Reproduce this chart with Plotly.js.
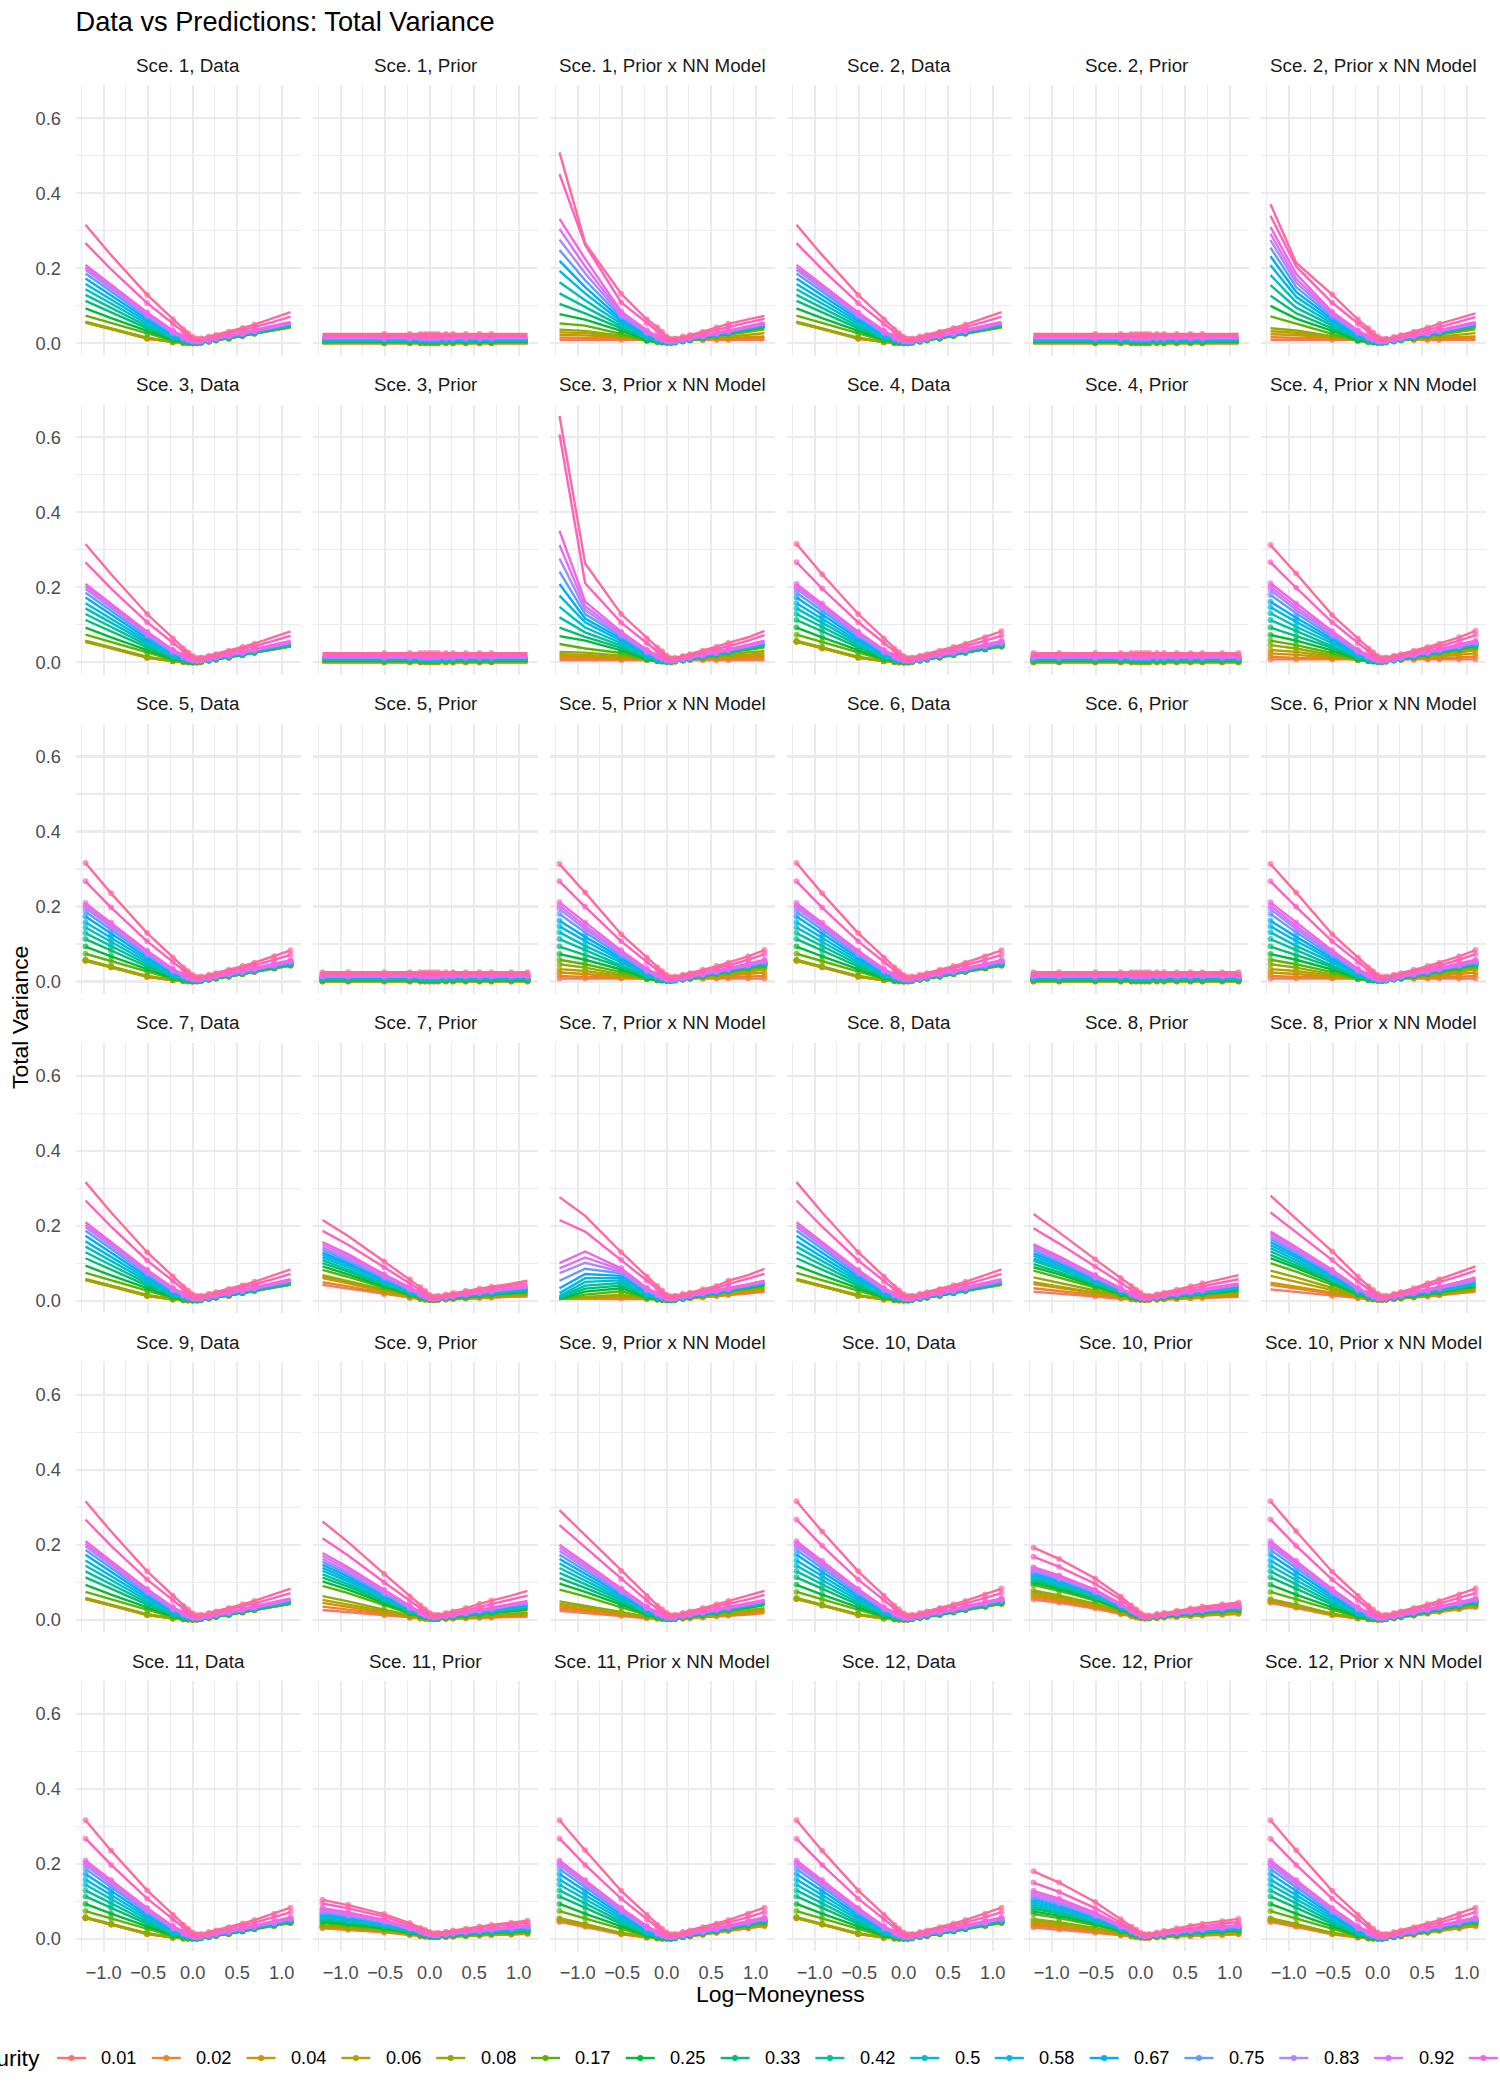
<!DOCTYPE html>
<html>
<head>
<meta charset="utf-8">
<script src="https://cdn.plot.ly/plotly-3.0.1.min.js"></script>
<style>
  html, body { margin: 0; padding: 0; background: #ffffff; }
  #chart { width: 1500px; height: 2100px; }
</style>
</head>
<body>
<div id="chart"></div>
<script>
// ---------- data ----------
const maturities = ['0.01','0.02','0.04','0.06','0.08','0.17','0.25','0.33','0.42','0.5','0.58','0.67','0.75','0.83','0.92','1','1.25','1.5'];
const logMoneyness = [-1.204,-0.916,-0.511,-0.223,-0.105,-0.051,0,0.049,0.095,0.182,0.262,0.405,0.560,0.693,0.916,1.099];
const scenarioIds = [1,2,3,4,5,6,7,8,9,10,11,12];
const panelKinds = ['Data','Prior','Prior x NN Model'];
// scenarios whose observed points include the far wings
const wingScenarios = [4,5,6,10,11,12];

// observed total variance (same surface in every scenario)
const dataTotalVar = [
  [.055,.038,.012,.003,.001,0,0,0,.002,.005,.008,.013,.020,.026,.035,.042],
  [.055,.038,.013,.003,.001,0,0,0,.002,.005,.008,.013,.020,.026,.035,.043],
  [.056,.039,.013,.003,.001,.001,0,0,.002,.005,.008,.013,.020,.026,.035,.043],
  [.056,.039,.014,.004,.001,.001,0,.001,.002,.005,.008,.013,.020,.026,.035,.043],
  [.058,.040,.015,.004,.002,.001,0,.001,.002,.005,.008,.013,.020,.027,.035,.043],
  [.074,.054,.025,.007,.003,.002,.001,.001,.002,.005,.008,.014,.020,.027,.036,.044],
  [.093,.067,.033,.009,.004,.003,.002,.001,.003,.006,.009,.014,.021,.027,.036,.045],
  [.113,.082,.040,.012,.006,.004,.002,.002,.003,.006,.009,.015,.021,.028,.037,.046],
  [.129,.094,.046,.014,.007,.005,.003,.002,.003,.006,.010,.015,.022,.028,.038,.047],
  [.144,.106,.052,.017,.008,.006,.003,.003,.004,.007,.010,.016,.023,.029,.039,.048],
  [.158,.117,.058,.020,.010,.007,.004,.003,.004,.007,.011,.016,.023,.030,.040,.049],
  [.173,.127,.064,.023,.011,.008,.004,.003,.005,.008,.011,.017,.024,.031,.041,.050],
  [.186,.138,.070,.026,.013,.009,.005,.004,.005,.008,.012,.018,.025,.032,.042,.052],
  [.196,.146,.075,.029,.015,.010,.006,.005,.006,.009,.013,.019,.026,.033,.043,.053],
  [.202,.152,.079,.032,.017,.011,.007,.006,.007,.010,.014,.020,.027,.034,.045,.055],
  [.209,.157,.082,.034,.018,.012,.008,.006,.008,.011,.015,.021,.029,.035,.047,.057],
  [.267,.197,.107,.051,.028,.020,.013,.010,.011,.015,.019,.027,.036,.043,.058,.071],
  [.316,.235,.129,.064,.037,.027,.017,.012,.013,.018,.022,.031,.041,.050,.067,.083]
];

// flat-volatility prior, scenarios 1-6
const priorFlat = [
  [.0002,.0002,.0002,.0002,.0002,.0002,.0002,.0002,.0002,.0002,.0002,.0002,.0002,.0002,.0002,.0002],
  [.0003,.0003,.0003,.0003,.0003,.0003,.0003,.0003,.0003,.0003,.0003,.0003,.0003,.0003,.0003,.0003],
  [.0007,.0007,.0007,.0007,.0007,.0007,.0007,.0007,.0007,.0007,.0007,.0007,.0007,.0007,.0007,.0007],
  [.001,.001,.001,.001,.001,.001,.001,.001,.001,.001,.001,.001,.001,.001,.001,.001],
  [.0013,.0013,.0013,.0013,.0013,.0013,.0013,.0013,.0013,.0013,.0013,.0013,.0013,.0013,.0013,.0013],
  [.0028,.0028,.0028,.0028,.0028,.0028,.0028,.0028,.0028,.0028,.0028,.0028,.0028,.0028,.0028,.0028],
  [.0041,.0041,.0041,.0041,.0041,.0041,.0041,.0041,.0041,.0041,.0041,.0041,.0041,.0041,.0041,.0041],
  [.0055,.0055,.0055,.0055,.0055,.0055,.0055,.0055,.0055,.0055,.0055,.0055,.0055,.0055,.0055,.0055],
  [.0069,.0069,.0069,.0069,.0069,.0069,.0069,.0069,.0069,.0069,.0069,.0069,.0069,.0069,.0069,.0069],
  [.0083,.0083,.0083,.0083,.0083,.0083,.0083,.0083,.0083,.0083,.0083,.0083,.0083,.0083,.0083,.0083],
  [.0096,.0096,.0096,.0096,.0096,.0096,.0096,.0096,.0096,.0096,.0096,.0096,.0096,.0096,.0096,.0096],
  [.011,.011,.011,.011,.011,.011,.011,.011,.011,.011,.011,.011,.011,.011,.011,.011],
  [.0124,.0124,.0124,.0124,.0124,.0124,.0124,.0124,.0124,.0124,.0124,.0124,.0124,.0124,.0124,.0124],
  [.0137,.0137,.0137,.0137,.0137,.0137,.0137,.0137,.0137,.0137,.0137,.0137,.0137,.0137,.0137,.0137],
  [.0152,.0152,.0152,.0152,.0152,.0152,.0152,.0152,.0152,.0152,.0152,.0152,.0152,.0152,.0152,.0152],
  [.0165,.0165,.0165,.0165,.0165,.0165,.0165,.0165,.0165,.0165,.0165,.0165,.0165,.0165,.0165,.0165],
  [.0206,.0206,.0206,.0206,.0206,.0206,.0206,.0206,.0206,.0206,.0206,.0206,.0206,.0206,.0206,.0206],
  [.0248,.0248,.0248,.0248,.0248,.0248,.0248,.0248,.0248,.0248,.0248,.0248,.0248,.0248,.0248,.0248]
];

const prior7 = [
  [.042,.032,.017,.007,.004,.002,.001,.001,.002,.003,.004,.005,.007,.008,.010,.011],
  [.049,.038,.020,.008,.004,.003,.002,.001,.002,.003,.004,.006,.008,.009,.011,.013],
  [.060,.046,.024,.010,.005,.003,.002,.002,.002,.004,.005,.007,.009,.011,.014,.016],
  [.064,.049,.026,.011,.006,.004,.002,.002,.003,.004,.005,.008,.010,.012,.015,.017],
  [.068,.052,.028,.012,.006,.004,.002,.002,.003,.004,.006,.008,.011,.013,.016,.019],
  [.082,.063,.034,.014,.008,.005,.003,.002,.003,.005,.007,.010,.013,.016,.019,.022],
  [.091,.070,.038,.016,.009,.006,.003,.003,.004,.006,.008,.011,.014,.017,.021,.024],
  [.100,.077,.042,.018,.010,.007,.004,.003,.004,.006,.008,.011,.015,.018,.023,.026],
  [.108,.083,.046,.020,.011,.007,.004,.003,.005,.007,.009,.012,.016,.020,.024,.028],
  [.115,.089,.050,.022,.012,.008,.005,.004,.005,.007,.010,.013,.017,.021,.026,.030],
  [.122,.095,.053,.024,.013,.009,.005,.004,.005,.008,.010,.014,.018,.022,.027,.031],
  [.128,.100,.056,.026,.014,.009,.006,.004,.006,.008,.011,.014,.019,.023,.028,.033],
  [.135,.106,.060,.028,.015,.010,.006,.005,.006,.009,.011,.015,.020,.024,.029,.034],
  [.142,.112,.063,.030,.016,.011,.007,.005,.007,.009,.012,.016,.021,.025,.030,.036],
  [.149,.118,.067,.032,.018,.012,.007,.006,.007,.010,.012,.017,.022,.026,.032,.037],
  [.156,.124,.070,.034,.019,.013,.008,.006,.008,.010,.013,.018,.023,.027,.033,.039],
  [.186,.149,.089,.046,.028,.020,.012,.009,.010,.013,.017,.022,.027,.032,.039,.046],
  [.215,.172,.104,.057,.036,.026,.015,.011,.013,.016,.020,.026,.032,.037,.045,.053]
];

const prior8 = [
  [.024,.019,.011,.005,.003,.002,.002,.001,.002,.002,.003,.004,.006,.007,.008,.010],
  [.033,.026,.015,.007,.004,.003,.002,.002,.002,.003,.004,.005,.007,.008,.010,.012],
  [.044,.034,.019,.008,.005,.004,.002,.002,.002,.003,.004,.006,.008,.010,.013,.015],
  [.049,.038,.021,.009,.005,.004,.003,.002,.003,.004,.005,.007,.010,.012,.015,.018],
  [.062,.048,.027,.012,.007,.005,.003,.003,.003,.005,.006,.009,.012,.014,.018,.022],
  [.080,.062,.035,.015,.009,.006,.004,.003,.004,.006,.007,.010,.014,.017,.022,.026],
  [.089,.070,.039,.017,.010,.007,.005,.004,.004,.006,.008,.011,.015,.018,.023,.028],
  [.097,.076,.043,.019,.011,.008,.005,.004,.005,.007,.009,.012,.016,.020,.025,.030],
  [.106,.083,.047,.021,.012,.009,.006,.004,.005,.007,.009,.013,.017,.021,.027,.032],
  [.112,.088,.050,.023,.013,.009,.006,.005,.005,.008,.010,.014,.018,.022,.028,.034],
  [.119,.093,.053,.024,.014,.010,.007,.005,.006,.008,.010,.014,.019,.024,.030,.036],
  [.126,.099,.057,.026,.015,.011,.007,.005,.006,.009,.011,.015,.021,.025,.032,.038],
  [.133,.104,.060,.028,.016,.012,.008,.006,.007,.009,.012,.016,.022,.026,.033,.040],
  [.140,.110,.063,.029,.017,.012,.008,.006,.007,.010,.012,.017,.023,.028,.035,.042],
  [.146,.114,.066,.031,.018,.013,.009,.007,.008,.010,.013,.018,.024,.029,.037,.044],
  [.150,.118,.068,.032,.019,.014,.009,.007,.008,.011,.014,.019,.025,.031,.039,.046],
  [.193,.152,.091,.046,.029,.021,.014,.010,.010,.014,.017,.024,.032,.038,.048,.057],
  [.231,.182,.110,.060,.039,.029,.020,.013,.013,.017,.021,.029,.038,.046,.058,.068]
];

const prior9 = [
  [.026,.020,.011,.005,.003,.002,.001,.001,.001,.002,.003,.004,.005,.006,.007,.008],
  [.035,.027,.015,.006,.004,.003,.002,.001,.002,.003,.003,.005,.006,.007,.009,.011],
  [.045,.035,.019,.008,.005,.003,.002,.002,.002,.003,.004,.006,.008,.009,.012,.014],
  [.053,.041,.023,.010,.005,.004,.002,.002,.003,.004,.005,.007,.009,.011,.014,.016],
  [.063,.049,.027,.011,.006,.004,.003,.002,.003,.004,.005,.008,.010,.012,.016,.019],
  [.090,.071,.039,.016,.009,.006,.004,.003,.004,.006,.007,.010,.014,.017,.022,.026],
  [.102,.080,.044,.018,.010,.007,.005,.004,.004,.006,.008,.011,.015,.019,.024,.029],
  [.112,.088,.049,.020,.012,.008,.005,.004,.005,.007,.009,.012,.016,.020,.026,.031],
  [.121,.095,.053,.022,.013,.009,.006,.004,.005,.007,.009,.013,.018,.022,.028,.034],
  [.130,.102,.057,.024,.014,.010,.006,.005,.005,.008,.010,.014,.019,.023,.030,.036],
  [.138,.108,.061,.026,.015,.010,.007,.005,.006,.008,.011,.015,.020,.025,.032,.038],
  [.146,.115,.065,.028,.016,.011,.007,.005,.006,.009,.011,.016,.021,.026,.034,.040],
  [.154,.121,.069,.030,.017,.012,.008,.006,.007,.009,.012,.017,.023,.028,.036,.043],
  [.162,.127,.072,.032,.018,.013,.008,.006,.007,.010,.012,.018,.024,.029,.038,.045],
  [.170,.134,.076,.034,.019,.013,.009,.007,.008,.010,.013,.019,.025,.031,.040,.047],
  [.178,.140,.080,.036,.020,.014,.009,.007,.008,.011,.014,.020,.027,.033,.042,.050],
  [.217,.171,.100,.049,.029,.021,.014,.010,.010,.014,.018,.025,.034,.041,.053,.064],
  [.262,.207,.122,.062,.038,.028,.018,.013,.013,.018,.022,.031,.042,.051,.064,.077]
];

const prior10 = [
  [.054,.045,.030,.015,.009,.006,.004,.003,.003,.004,.006,.007,.009,.011,.013,.015],
  [.060,.050,.033,.016,.010,.007,.004,.003,.004,.005,.006,.008,.010,.012,.014,.017],
  [.066,.055,.036,.018,.011,.008,.005,.004,.004,.005,.007,.009,.011,.013,.016,.019],
  [.072,.060,.040,.020,.012,.009,.005,.004,.004,.006,.007,.009,.012,.014,.017,.020],
  [.078,.065,.043,.022,.013,.009,.006,.004,.005,.006,.008,.010,.013,.015,.019,.022],
  [.092,.077,.051,.026,.016,.011,.007,.005,.005,.007,.009,.012,.015,.018,.022,.026],
  [.098,.082,.055,.028,.017,.012,.007,.005,.006,.008,.010,.013,.016,.019,.023,.027],
  [.104,.087,.058,.030,.018,.013,.008,.006,.006,.008,.010,.014,.017,.020,.024,.029],
  [.109,.092,.061,.032,.019,.014,.008,.006,.006,.009,.011,.014,.018,.021,.025,.030],
  [.114,.096,.064,.033,.020,.015,.009,.006,.007,.009,.011,.015,.019,.022,.026,.031],
  [.119,.100,.067,.035,.021,.015,.009,.006,.007,.009,.011,.015,.019,.023,.027,.032],
  [.124,.104,.070,.037,.022,.016,.010,.007,.007,.010,.012,.016,.020,.024,.028,.033],
  [.128,.108,.072,.038,.023,.017,.010,.007,.007,.010,.012,.016,.021,.024,.029,.034],
  [.132,.111,.075,.040,.024,.017,.010,.007,.008,.010,.013,.017,.021,.025,.030,.035],
  [.136,.115,.077,.041,.025,.018,.011,.008,.008,.011,.013,.018,.022,.026,.031,.036],
  [.140,.118,.080,.043,.026,.019,.011,.008,.008,.011,.014,.018,.023,.027,.032,.037],
  [.168,.141,.096,.053,.032,.024,.014,.009,.009,.013,.016,.021,.027,.031,.037,.042],
  [.192,.162,.110,.062,.038,.028,.017,.011,.011,.015,.018,.024,.030,.035,.041,.046]
];

const prior11 = [
  [.028,.024,.017,.010,.007,.006,.005,.004,.004,.005,.006,.007,.009,.010,.011,.013],
  [.030,.026,.019,.011,.008,.006,.005,.004,.004,.005,.006,.008,.009,.011,.012,.014],
  [.032,.028,.020,.012,.008,.007,.005,.004,.005,.006,.007,.008,.010,.011,.013,.015],
  [.034,.029,.021,.012,.009,.007,.005,.005,.005,.006,.007,.009,.010,.012,.014,.016],
  [.036,.031,.022,.013,.009,.007,.006,.005,.005,.006,.007,.009,.011,.013,.015,.017],
  [.042,.036,.026,.015,.011,.009,.007,.006,.006,.007,.008,.010,.013,.015,.017,.019],
  [.046,.040,.028,.017,.012,.009,.007,.006,.006,.008,.009,.011,.014,.016,.018,.021],
  [.050,.043,.031,.018,.013,.010,.008,.007,.007,.008,.010,.012,.015,.017,.020,.022],
  [.054,.047,.033,.020,.014,.011,.008,.007,.007,.009,.011,.013,.016,.018,.021,.024],
  [.058,.050,.036,.021,.015,.012,.009,.008,.008,.010,.011,.014,.017,.020,.023,.026],
  [.062,.053,.038,.023,.016,.012,.009,.008,.008,.010,.012,.015,.018,.021,.024,.027],
  [.066,.057,.041,.024,.017,.013,.010,.009,.009,.011,.013,.016,.020,.022,.026,.029],
  [.070,.060,.043,.026,.018,.014,.011,.009,.010,.012,.014,.017,.021,.024,.027,.031],
  [.074,.064,.046,.028,.019,.015,.011,.010,.010,.012,.014,.018,.022,.025,.029,.033],
  [.078,.067,.048,.029,.020,.016,.012,.010,.011,.013,.015,.019,.023,.026,.030,.034],
  [.082,.070,.051,.031,.021,.017,.013,.011,.011,.014,.016,.020,.024,.028,.032,.036],
  [.094,.081,.059,.037,.026,.021,.016,.013,.014,.017,.019,.024,.029,.033,.038,.043],
  [.104,.090,.066,.042,.029,.024,.018,.015,.016,.019,.022,.027,.033,.037,.043,.048]
];

const prior12 = [
  [.030,.025,.016,.009,.006,.004,.003,.002,.003,.004,.005,.006,.007,.009,.010,.012],
  [.035,.030,.019,.010,.007,.005,.003,.003,.003,.004,.005,.007,.008,.010,.011,.013],
  [.040,.034,.022,.012,.008,.006,.004,.003,.003,.005,.006,.008,.009,.011,.013,.015],
  [.046,.039,.025,.013,.009,.006,.004,.003,.004,.005,.006,.008,.010,.012,.014,.016],
  [.052,.044,.029,.015,.010,.007,.005,.004,.004,.006,.007,.009,.012,.013,.016,.018],
  [.066,.055,.036,.019,.012,.009,.006,.004,.005,.007,.008,.011,.014,.016,.019,.021],
  [.073,.061,.040,.021,.013,.010,.006,.005,.005,.007,.009,.011,.015,.017,.020,.023],
  [.080,.067,.044,.022,.014,.011,.007,.005,.006,.008,.009,.012,.016,.018,.022,.025],
  [.086,.072,.047,.024,.015,.011,.007,.005,.006,.008,.010,.013,.017,.020,.023,.026],
  [.092,.077,.050,.026,.016,.012,.008,.006,.007,.009,.011,.014,.018,.021,.024,.028],
  [.098,.082,.053,.027,.018,.013,.008,.006,.007,.009,.011,.015,.019,.022,.026,.029],
  [.104,.087,.057,.029,.019,.014,.009,.007,.007,.010,.012,.015,.020,.023,.027,.031],
  [.110,.092,.060,.031,.020,.015,.009,.007,.008,.010,.013,.016,.021,.024,.028,.032],
  [.116,.097,.063,.033,.021,.015,.010,.007,.008,.011,.013,.017,.022,.025,.030,.034],
  [.122,.102,.066,.034,.022,.016,.010,.008,.009,.011,.014,.018,.023,.027,.031,.035],
  [.128,.107,.070,.036,.023,.017,.011,.008,.009,.012,.015,.019,.024,.028,.033,.037],
  [.150,.125,.082,.043,.027,.021,.013,.010,.011,.014,.018,.023,.029,.034,.040,.045],
  [.180,.150,.098,.052,.033,.025,.016,.012,.013,.017,.021,.028,.035,.040,.047,.053]
];

// prior scaled by the neural-network correction
const nnModel1 = [
  [.009,.009,.009,.009,.008,.008,.008,.008,.008,.008,.008,.008,.009,.009,.009,.009],
  [.015,.015,.013,.011,.010,.010,.010,.010,.010,.010,.011,.011,.012,.012,.013,.013],
  [.022,.021,.016,.010,.008,.008,.007,.007,.008,.009,.010,.011,.013,.014,.016,.018],
  [.029,.027,.018,.008,.006,.005,.004,.004,.005,.006,.008,.011,.015,.018,.023,.027],
  [.036,.033,.020,.006,.004,.003,.002,.002,.003,.005,.008,.012,.018,.023,.030,.037],
  [.053,.047,.025,.007,.003,.002,.001,.001,.002,.005,.008,.014,.020,.026,.034,.042],
  [.078,.063,.033,.009,.004,.003,.002,.001,.003,.006,.009,.014,.021,.027,.035,.044],
  [.105,.080,.040,.012,.006,.004,.002,.002,.003,.006,.009,.015,.021,.027,.036,.045],
  [.133,.097,.046,.014,.007,.005,.003,.002,.003,.006,.010,.015,.022,.028,.037,.046],
  [.163,.115,.052,.017,.008,.006,.003,.003,.004,.007,.010,.016,.023,.029,.038,.047],
  [.193,.133,.058,.020,.010,.007,.004,.003,.004,.007,.011,.016,.023,.029,.039,.048],
  [.220,.150,.064,.023,.011,.008,.004,.003,.005,.008,.011,.017,.024,.030,.040,.049],
  [.249,.168,.070,.026,.013,.009,.005,.004,.005,.008,.012,.018,.025,.031,.041,.050],
  [.277,.187,.075,.029,.015,.010,.006,.005,.006,.009,.013,.019,.026,.032,.043,.052],
  [.305,.205,.080,.032,.017,.011,.007,.006,.007,.010,.014,.020,.027,.033,.044,.054],
  [.332,.225,.085,.035,.019,.013,.008,.006,.008,.011,.015,.021,.028,.034,.046,.056],
  [.451,.262,.109,.053,.031,.022,.014,.010,.011,.015,.019,.027,.036,.044,.056,.065],
  [.509,.267,.132,.064,.043,.031,.018,.011,.013,.018,.022,.031,.042,.052,.064,.073]
];

const nnModel2 = [
  [.009,.009,.009,.009,.008,.008,.008,.008,.008,.008,.008,.008,.009,.009,.009,.009],
  [.016,.015,.013,.011,.010,.010,.010,.010,.010,.010,.011,.011,.012,.012,.013,.013],
  [.024,.022,.015,.010,.008,.008,.007,.007,.008,.009,.010,.011,.013,.014,.016,.018],
  [.032,.028,.017,.008,.006,.005,.004,.004,.005,.006,.008,.011,.015,.018,.023,.027],
  [.040,.034,.019,.006,.004,.003,.002,.002,.003,.005,.008,.012,.018,.023,.030,.037],
  [.072,.052,.025,.007,.003,.002,.001,.001,.002,.005,.008,.014,.020,.026,.034,.042],
  [.100,.066,.033,.009,.004,.003,.002,.001,.003,.006,.009,.014,.021,.027,.036,.045],
  [.127,.080,.040,.012,.006,.004,.002,.002,.003,.006,.009,.015,.021,.028,.037,.046],
  [.155,.095,.047,.014,.007,.005,.003,.002,.003,.006,.010,.015,.022,.028,.038,.047],
  [.182,.110,.053,.017,.008,.006,.003,.003,.004,.007,.010,.016,.023,.029,.039,.048],
  [.208,.124,.059,.020,.010,.007,.004,.003,.004,.007,.011,.016,.023,.030,.040,.049],
  [.232,.137,.065,.023,.011,.008,.004,.003,.005,.008,.011,.017,.024,.031,.041,.050],
  [.255,.150,.071,.026,.013,.009,.005,.004,.005,.008,.012,.018,.025,.032,.042,.052],
  [.275,.162,.076,.029,.015,.010,.006,.005,.006,.009,.013,.019,.026,.033,.043,.053],
  [.292,.172,.080,.032,.017,.011,.007,.006,.007,.010,.014,.020,.027,.034,.045,.055],
  [.310,.185,.084,.035,.019,.013,.008,.006,.008,.011,.015,.021,.029,.035,.047,.057],
  [.340,.205,.108,.052,.030,.021,.014,.010,.011,.015,.019,.027,.036,.043,.058,.070],
  [.371,.215,.130,.064,.040,.029,.018,.011,.012,.017,.022,.031,.042,.052,.067,.080]
];

const nnModel3 = [
  [.006,.006,.006,.006,.006,.006,.006,.006,.006,.006,.006,.006,.006,.006,.006,.006],
  [.011,.011,.009,.008,.007,.007,.007,.007,.008,.008,.009,.009,.010,.010,.011,.012],
  [.017,.015,.011,.008,.007,.007,.006,.006,.007,.008,.009,.010,.012,.013,.015,.018],
  [.022,.020,.014,.008,.006,.005,.004,.004,.005,.006,.008,.010,.014,.016,.020,.024],
  [.028,.026,.018,.007,.004,.003,.002,.002,.003,.005,.008,.012,.017,.021,.027,.030],
  [.049,.037,.025,.007,.003,.002,.001,.001,.002,.005,.008,.014,.020,.026,.034,.040],
  [.070,.058,.032,.009,.004,.003,.002,.001,.003,.006,.009,.014,.021,.027,.036,.045],
  [.093,.068,.039,.012,.006,.004,.002,.002,.003,.006,.009,.015,.021,.028,.037,.046],
  [.120,.080,.045,.014,.007,.005,.003,.002,.003,.006,.010,.015,.022,.028,.038,.047],
  [.148,.093,.051,.017,.008,.006,.003,.003,.004,.007,.010,.016,.023,.029,.039,.048],
  [.178,.107,.057,.020,.010,.007,.004,.003,.004,.007,.011,.016,.023,.030,.040,.049],
  [.209,.117,.063,.023,.011,.008,.004,.003,.005,.008,.011,.017,.024,.031,.041,.050],
  [.242,.129,.069,.026,.013,.009,.005,.004,.005,.008,.012,.018,.025,.032,.042,.052],
  [.277,.140,.074,.029,.015,.010,.006,.005,.006,.009,.013,.019,.026,.033,.043,.053],
  [.313,.150,.078,.032,.017,.011,.007,.006,.007,.010,.014,.020,.027,.034,.045,.055],
  [.351,.162,.082,.034,.018,.012,.008,.006,.008,.011,.015,.021,.029,.035,.047,.058],
  [.608,.211,.106,.051,.029,.021,.014,.010,.011,.015,.019,.027,.036,.043,.058,.073],
  [.657,.264,.129,.064,.040,.030,.018,.011,.012,.017,.022,.031,.042,.052,.067,.084]
];

const nnModel456 = [
  [.008,.008,.008,.007,.007,.007,.007,.007,.007,.007,.007,.007,.008,.008,.008,.008],
  [.015,.012,.010,.008,.007,.007,.007,.007,.007,.008,.008,.009,.010,.011,.013,.015],
  [.024,.020,.012,.007,.006,.006,.005,.005,.006,.007,.008,.010,.013,.016,.020,.024],
  [.033,.028,.015,.007,.005,.004,.004,.004,.005,.006,.008,.011,.016,.020,.026,.033],
  [.046,.037,.019,.006,.004,.003,.002,.002,.003,.005,.008,.013,.019,.024,.032,.038],
  [.058,.046,.025,.007,.003,.002,.001,.001,.002,.005,.008,.014,.020,.026,.035,.042],
  [.073,.058,.032,.009,.004,.003,.002,.001,.003,.006,.009,.014,.021,.027,.036,.045],
  [.093,.070,.039,.012,.006,.004,.002,.002,.003,.006,.009,.015,.021,.028,.037,.046],
  [.113,.084,.045,.014,.007,.005,.003,.002,.003,.006,.010,.015,.022,.028,.038,.047],
  [.131,.095,.051,.017,.008,.006,.003,.003,.004,.007,.010,.016,.023,.029,.039,.048],
  [.147,.108,.057,.020,.010,.007,.004,.003,.004,.007,.011,.016,.023,.030,.040,.049],
  [.162,.119,.063,.023,.011,.008,.004,.003,.005,.008,.011,.017,.024,.031,.041,.050],
  [.180,.131,.069,.026,.013,.009,.005,.004,.005,.008,.012,.018,.025,.032,.042,.052],
  [.193,.140,.075,.029,.015,.010,.006,.005,.006,.009,.013,.019,.026,.033,.043,.053],
  [.202,.148,.079,.032,.017,.011,.007,.006,.007,.010,.014,.020,.027,.034,.045,.055],
  [.211,.157,.083,.034,.018,.012,.008,.006,.008,.011,.015,.021,.029,.035,.047,.058],
  [.267,.199,.107,.051,.028,.020,.013,.010,.011,.015,.019,.027,.036,.043,.058,.073],
  [.313,.237,.126,.064,.037,.027,.017,.012,.013,.018,.022,.031,.041,.050,.067,.084]
];

const nnModel7 = [
  [.005,.005,.006,.004,.003,.002,.002,.002,.002,.004,.006,.009,.012,.015,.019,.024],
  [.005,.006,.008,.005,.003,.003,.002,.002,.003,.004,.006,.009,.013,.016,.021,.026],
  [.005,.007,.010,.005,.004,.003,.002,.002,.003,.005,.007,.010,.014,.018,.023,.029],
  [.005,.008,.012,.006,.004,.003,.002,.002,.003,.005,.007,.011,.016,.020,.026,.032],
  [.004,.010,.016,.006,.003,.002,.001,.001,.002,.005,.008,.013,.018,.023,.030,.036],
  [.004,.016,.025,.007,.003,.002,.001,.001,.002,.005,.008,.014,.019,.025,.033,.040],
  [.005,.024,.033,.009,.004,.003,.002,.001,.003,.006,.009,.014,.020,.026,.034,.042],
  [.006,.032,.040,.012,.006,.004,.002,.002,.003,.006,.009,.015,.021,.026,.035,.044],
  [.008,.040,.047,.014,.007,.005,.003,.002,.003,.006,.010,.015,.021,.027,.036,.045],
  [.012,.050,.054,.017,.008,.006,.003,.003,.004,.007,.010,.016,.022,.027,.037,.046],
  [.020,.060,.060,.020,.010,.007,.004,.003,.004,.007,.011,.016,.022,.028,.038,.047],
  [.033,.071,.066,.023,.011,.008,.004,.003,.005,.008,.011,.017,.023,.029,.039,.048],
  [.053,.085,.073,.026,.013,.009,.005,.004,.005,.008,.012,.018,.024,.030,.040,.049],
  [.073,.101,.077,.029,.015,.010,.006,.005,.006,.009,.013,.019,.025,.031,.041,.050],
  [.086,.115,.082,.032,.017,.011,.007,.006,.007,.010,.014,.020,.026,.032,.042,.051],
  [.100,.131,.086,.034,.019,.013,.008,.006,.008,.011,.015,.021,.027,.033,.044,.053],
  [.215,.184,.108,.053,.030,.021,.013,.010,.011,.015,.019,.026,.034,.044,.058,.071],
  [.276,.226,.129,.064,.039,.027,.015,.011,.013,.018,.021,.030,.039,.053,.068,.085]
];

const nnModel8 = [
  [.030,.023,.012,.006,.004,.003,.002,.002,.002,.004,.005,.008,.011,.014,.019,.024],
  [.042,.032,.017,.008,.004,.003,.002,.002,.003,.004,.006,.009,.012,.015,.021,.026],
  [.048,.037,.020,.009,.005,.004,.002,.002,.003,.004,.006,.009,.013,.016,.022,.028],
  [.066,.051,.028,.011,.006,.004,.003,.002,.003,.005,.007,.010,.014,.017,.024,.030],
  [.080,.062,.034,.013,.007,.005,.003,.002,.003,.005,.007,.011,.015,.019,.026,.033],
  [.100,.077,.042,.015,.008,.005,.003,.003,.004,.006,.008,.012,.017,.021,.029,.036],
  [.113,.087,.048,.017,.009,.006,.004,.003,.004,.007,.009,.013,.019,.023,.031,.039],
  [.122,.094,.052,.019,.010,.007,.004,.003,.004,.007,.010,.014,.020,.025,.033,.042],
  [.131,.101,.056,.021,.011,.007,.005,.004,.005,.008,.010,.015,.021,.026,.035,.044],
  [.140,.108,.060,.023,.012,.008,.005,.004,.005,.008,.011,.016,.022,.028,.037,.047],
  [.148,.115,.064,.025,.013,.009,.006,.004,.006,.009,.012,.017,.023,.029,.039,.049],
  [.156,.121,.068,.027,.014,.010,.006,.005,.006,.009,.012,.018,.025,.030,.041,.051],
  [.164,.127,.072,.029,.016,.011,.007,.005,.007,.010,.013,.019,.026,.032,.043,.053],
  [.171,.133,.076,.031,.017,.011,.007,.006,.007,.010,.013,.020,.027,.033,.045,.055],
  [.178,.138,.079,.033,.018,.012,.008,.006,.008,.011,.014,.021,.028,.035,.047,.058],
  [.184,.143,.082,.035,.019,.013,.009,.007,.008,.011,.015,.022,.030,.037,.050,.062],
  [.235,.183,.108,.051,.029,.021,.014,.010,.011,.015,.020,.029,.040,.049,.065,.080],
  [.280,.218,.131,.064,.038,.028,.018,.012,.013,.018,.023,.033,.046,.057,.075,.091]
];

const nnModel9 = [
  [.024,.019,.010,.004,.003,.002,.001,.001,.002,.003,.004,.006,.009,.011,.014,.018],
  [.030,.023,.013,.005,.003,.002,.002,.001,.002,.003,.005,.007,.010,.012,.016,.021],
  [.036,.028,.015,.006,.003,.003,.002,.002,.002,.004,.005,.008,.011,.014,.019,.024],
  [.042,.033,.018,.007,.004,.003,.002,.002,.003,.004,.006,.009,.013,.016,.022,.027],
  [.049,.038,.021,.008,.004,.003,.002,.002,.003,.005,.007,.010,.015,.019,.025,.031],
  [.080,.062,.033,.012,.006,.004,.003,.002,.003,.006,.008,.012,.018,.023,.031,.039],
  [.096,.074,.040,.014,.007,.005,.003,.002,.004,.006,.009,.013,.019,.025,.033,.041],
  [.111,.085,.046,.016,.008,.006,.004,.003,.004,.007,.009,.014,.020,.026,.034,.042],
  [.125,.095,.052,.019,.010,.007,.004,.003,.004,.007,.010,.015,.021,.027,.036,.044],
  [.138,.105,.057,.021,.011,.007,.005,.004,.005,.008,.011,.016,.022,.028,.037,.045],
  [.150,.114,.062,.024,.012,.008,.005,.004,.005,.008,.011,.017,.023,.029,.038,.046],
  [.162,.123,.067,.026,.014,.009,.006,.004,.006,.009,.012,.017,.024,.030,.039,.047],
  [.173,.131,.072,.029,.015,.010,.006,.005,.006,.009,.012,.018,.025,.031,.040,.048],
  [.183,.139,.076,.031,.016,.011,.007,.005,.007,.010,.013,.019,.026,.032,.041,.049],
  [.192,.146,.080,.033,.018,.012,.008,.006,.007,.010,.014,.020,.027,.033,.042,.051],
  [.200,.152,.083,.035,.019,.013,.008,.006,.008,.011,.015,.021,.028,.034,.044,.053],
  [.252,.193,.108,.051,.029,.021,.014,.010,.011,.015,.019,.026,.035,.042,.054,.066],
  [.292,.225,.130,.064,.038,.028,.018,.012,.013,.018,.022,.031,.041,.050,.064,.077]
];

const nnModel101112 = [
  [.045,.032,.012,.003,.001,.001,0,0,.001,.004,.006,.011,.016,.021,.028,.034],
  [.047,.034,.013,.004,.001,.001,0,0,.002,.004,.007,.011,.017,.022,.029,.035],
  [.050,.036,.014,.004,.002,.001,0,.001,.002,.004,.007,.012,.017,.023,.030,.036],
  [.052,.038,.015,.004,.002,.001,.001,.001,.002,.005,.008,.012,.018,.024,.031,.038],
  [.055,.040,.016,.005,.002,.001,.001,.001,.002,.005,.008,.013,.019,.025,.033,.040],
  [.074,.054,.025,.007,.003,.002,.001,.001,.002,.005,.008,.014,.020,.027,.036,.044],
  [.093,.067,.033,.009,.004,.003,.002,.001,.003,.006,.009,.014,.021,.027,.036,.045],
  [.113,.082,.040,.012,.006,.004,.002,.002,.003,.006,.009,.015,.021,.028,.037,.046],
  [.129,.094,.046,.014,.007,.005,.003,.002,.003,.006,.010,.015,.022,.028,.038,.047],
  [.144,.106,.052,.017,.008,.006,.003,.003,.004,.007,.010,.016,.023,.029,.039,.048],
  [.158,.117,.058,.020,.010,.007,.004,.003,.004,.007,.011,.016,.023,.030,.040,.049],
  [.173,.127,.064,.023,.011,.008,.004,.003,.005,.008,.011,.017,.024,.031,.041,.050],
  [.186,.138,.070,.026,.013,.009,.005,.004,.005,.008,.012,.018,.025,.032,.042,.052],
  [.196,.146,.075,.029,.015,.010,.006,.005,.006,.009,.013,.019,.026,.033,.043,.053],
  [.202,.152,.079,.032,.017,.011,.007,.006,.007,.010,.014,.020,.027,.034,.045,.055],
  [.209,.157,.082,.034,.018,.012,.008,.006,.008,.011,.015,.021,.029,.035,.047,.057],
  [.267,.197,.107,.051,.028,.020,.013,.010,.011,.015,.019,.027,.036,.043,.058,.071],
  [.316,.236,.128,.064,.037,.027,.017,.012,.013,.018,.022,.031,.041,.050,.067,.083]
];

// table used for each scenario (index = scenario - 1)
const priorTables = [priorFlat, priorFlat, priorFlat, priorFlat, priorFlat, priorFlat,
                     prior7, prior8, prior9, prior10, prior11, prior12];
const nnTables = [nnModel1, nnModel2, nnModel3, nnModel456, nnModel456, nnModel456,
                  nnModel7, nnModel8, nnModel9, nnModel101112, nnModel101112, nnModel101112];

// ---------- styling ----------
const W = 1500, H = 2100;
const FONT = 'Liberation Sans, Arial, sans-serif';
const panelLeft0 = 75.5, panelWidth = 225, colStep = 237;
const zeroRow0 = 343.3, rowStep = 319.1, pxPerUnit = 375;
const yRange = [-0.0328, 0.6877], xRange = [-1.3165, 1.2115];
const gridColor = '#EBEBEB';
const TICK_SIZE = 18.2, STRIP_SIZE = 18.8, AXIS_TITLE_SIZE = 22.9;

// ggplot-style hue palette (HCL, c = 100, l = 65)
function hclToHex(h, c, l) {
  const hr = h * Math.PI / 180;
  const U = c * Math.cos(hr), V = c * Math.sin(hr);
  const Xn = 95.047, Yn = 100.0, Zn = 108.883;
  const Y = l > 8 ? Yn * Math.pow((l + 16) / 116, 3) : Yn * l / 903.3;
  const den = Xn + 15 * Yn + 3 * Zn;
  const un = 4 * Xn / den, vn = 9 * Yn / den;
  const u = U / (13 * l) + un, v = V / (13 * l) + vn;
  const X = Y * 9 * u / (4 * v);
  const Z = Y * (12 - 3 * u - 20 * v) / (4 * v);
  const x = X / 100, y = Y / 100, z = Z / 100;
  const lin = [
    3.240479 * x - 1.537150 * y - 0.498535 * z,
   -0.969256 * x + 1.875992 * y + 0.041556 * z,
    0.055648 * x - 0.204043 * y + 1.057311 * z
  ];
  return '#' + lin.map(c0 => {
    let g = c0 <= 0.0031308 ? 12.92 * c0 : 1.055 * Math.pow(c0, 1 / 2.4) - 0.055;
    g = Math.max(0, Math.min(1, g));
    return Math.round(g * 255).toString(16).padStart(2, '0');
  }).join('');
}
const palette = maturities.map((_, i) => hclToHex(15 + 360 * i / maturities.length, 100, 65));

// ---------- build panels ----------
const traces = [];
const layout = {
  width: W, height: H,
  margin: {l: 0, r: 0, t: 0, b: 0},
  paper_bgcolor: '#ffffff', plot_bgcolor: '#ffffff',
  showlegend: false, hovermode: false,
  font: {family: FONT, color: '#1A1A1A'},
  title: {
    text: 'Data vs Predictions: Total Variance',
    x: panelLeft0 / W, xanchor: 'left', xref: 'paper',
    y: 1 - 21 / H, yanchor: 'middle',
    font: {family: FONT, size: 27.2, color: '#000000'}
  },
  annotations: [], shapes: []
};

for (let p = 0; p < 36; p++) {
  const row = Math.floor(p / 6), col = p % 6;
  const sce = scenarioIds[row * 2 + Math.floor(col / 3)];
  const kind = col % 3;
  const table = kind === 0 ? dataTotalVar : (kind === 1 ? priorTables[sce - 1] : nnTables[sce - 1]);
  const showAll = wingScenarios.includes(sce);
  const sizes = logMoneyness.map((_, k) => (showAll || (k >= 2 && k <= 13)) ? 6 : 0);
  const sfx = p === 0 ? '' : String(p + 1);

  table.forEach((vals, i) => {
    traces.push({
      type: 'scatter', mode: 'lines+markers',
      x: logMoneyness, y: vals,
      xaxis: 'x' + sfx, yaxis: 'y' + sfx,
      name: maturities[i],
      line: {color: palette[i], width: 2.4},
      marker: {color: palette[i], size: sizes, line: {width: 0}},
      showlegend: false, hoverinfo: 'skip'
    });
  });

  const x0 = panelLeft0 + col * colStep, x1 = x0 + panelWidth;
  const zero = zeroRow0 + row * rowStep;
  const top = zero - yRange[1] * pxPerUnit, bottom = zero - yRange[0] * pxPerUnit;

  layout['xaxis' + sfx] = {
    domain: [x0 / W, x1 / W], range: xRange, anchor: 'y' + sfx,
    tick0: 0, dtick: 0.5, tickformat: '.1f',
    showgrid: true, gridcolor: gridColor, gridwidth: 2.1,
    minor: {dtick: 0.25, showgrid: true, gridcolor: gridColor, gridwidth: 1.05},
    zeroline: false, showline: false,
    showticklabels: row === 5, ticks: 'outside', ticklen: 5, tickcolor: 'rgba(0,0,0,0)',
    tickfont: {family: FONT, size: TICK_SIZE, color: '#4D4D4D'},
    fixedrange: true
  };
  layout['yaxis' + sfx] = {
    domain: [1 - bottom / H, 1 - top / H], range: yRange, anchor: 'x' + sfx,
    tick0: 0, dtick: 0.2, tickformat: '.1f',
    showgrid: true, gridcolor: gridColor, gridwidth: 2.1,
    minor: {dtick: 0.1, showgrid: true, gridcolor: gridColor, gridwidth: 1.05},
    zeroline: false, showline: false,
    showticklabels: col === 0, ticks: 'outside', ticklen: 10, tickcolor: 'rgba(0,0,0,0)',
    tickfont: {family: FONT, size: TICK_SIZE, color: '#4D4D4D'},
    fixedrange: true
  };

  // facet strip label
  layout.annotations.push({
    text: 'Sce. ' + sce + ', ' + panelKinds[kind],
    xref: 'paper', yref: 'paper',
    x: (x0 + x1) / 2 / W, y: 1 - (zero - 277.7) / H,
    xanchor: 'center', yanchor: 'middle', showarrow: false,
    font: {family: FONT, size: STRIP_SIZE, color: '#1A1A1A'}
  });
}

// shared axis titles
layout.annotations.push({
  text: 'Log\u2212Moneyness', xref: 'paper', yref: 'paper',
  x: (panelLeft0 + 5 * colStep + panelWidth + panelLeft0) / 2 / W, y: 1 - 1994 / H,
  xanchor: 'center', yanchor: 'middle', showarrow: false,
  font: {family: FONT, size: AXIS_TITLE_SIZE, color: '#000000'}
});
layout.annotations.push({
  text: 'Total Variance', xref: 'paper', yref: 'paper',
  x: 20 / W, y: 1 - 1018 / H, textangle: -90,
  xanchor: 'center', yanchor: 'middle', showarrow: false,
  font: {family: FONT, size: AXIS_TITLE_SIZE, color: '#000000'}
});

// horizontal colour key along the bottom
const legY = 1 - 2058 / H;
layout.annotations.push({
  text: 'Maturity', xref: 'paper', yref: 'paper',
  x: 42 / W, y: legY, xanchor: 'right', yanchor: 'middle', showarrow: false,
  font: {family: FONT, size: AXIS_TITLE_SIZE, color: '#000000'}
});
const measure = document.createElement('canvas').getContext('2d');
measure.font = TICK_SIZE + 'px "Liberation Sans"';
let keyX = 57;
maturities.forEach((m, i) => {
  layout.shapes.push({
    type: 'line', xref: 'paper', yref: 'paper',
    x0: keyX / W, x1: (keyX + 29) / W, y0: legY, y1: legY,
    line: {color: palette[i], width: 2.4}
  });
  layout.shapes.push({
    type: 'circle', xref: 'paper', yref: 'paper',
    x0: (keyX + 11.5) / W, x1: (keyX + 17.5) / W, y0: legY - 3 / H, y1: legY + 3 / H,
    fillcolor: palette[i], line: {width: 0}
  });
  layout.annotations.push({
    text: m, xref: 'paper', yref: 'paper',
    x: (keyX + 42.5) / W, y: legY, xanchor: 'left', yanchor: 'middle', showarrow: false,
    font: {family: FONT, size: TICK_SIZE, color: '#000000'}
  });
  keyX += 42.5 + measure.measureText(m).width + 16.9;
});

Plotly.newPlot('chart', traces, layout, {displayModeBar: false, staticPlot: true});
</script>
</body>
</html>
